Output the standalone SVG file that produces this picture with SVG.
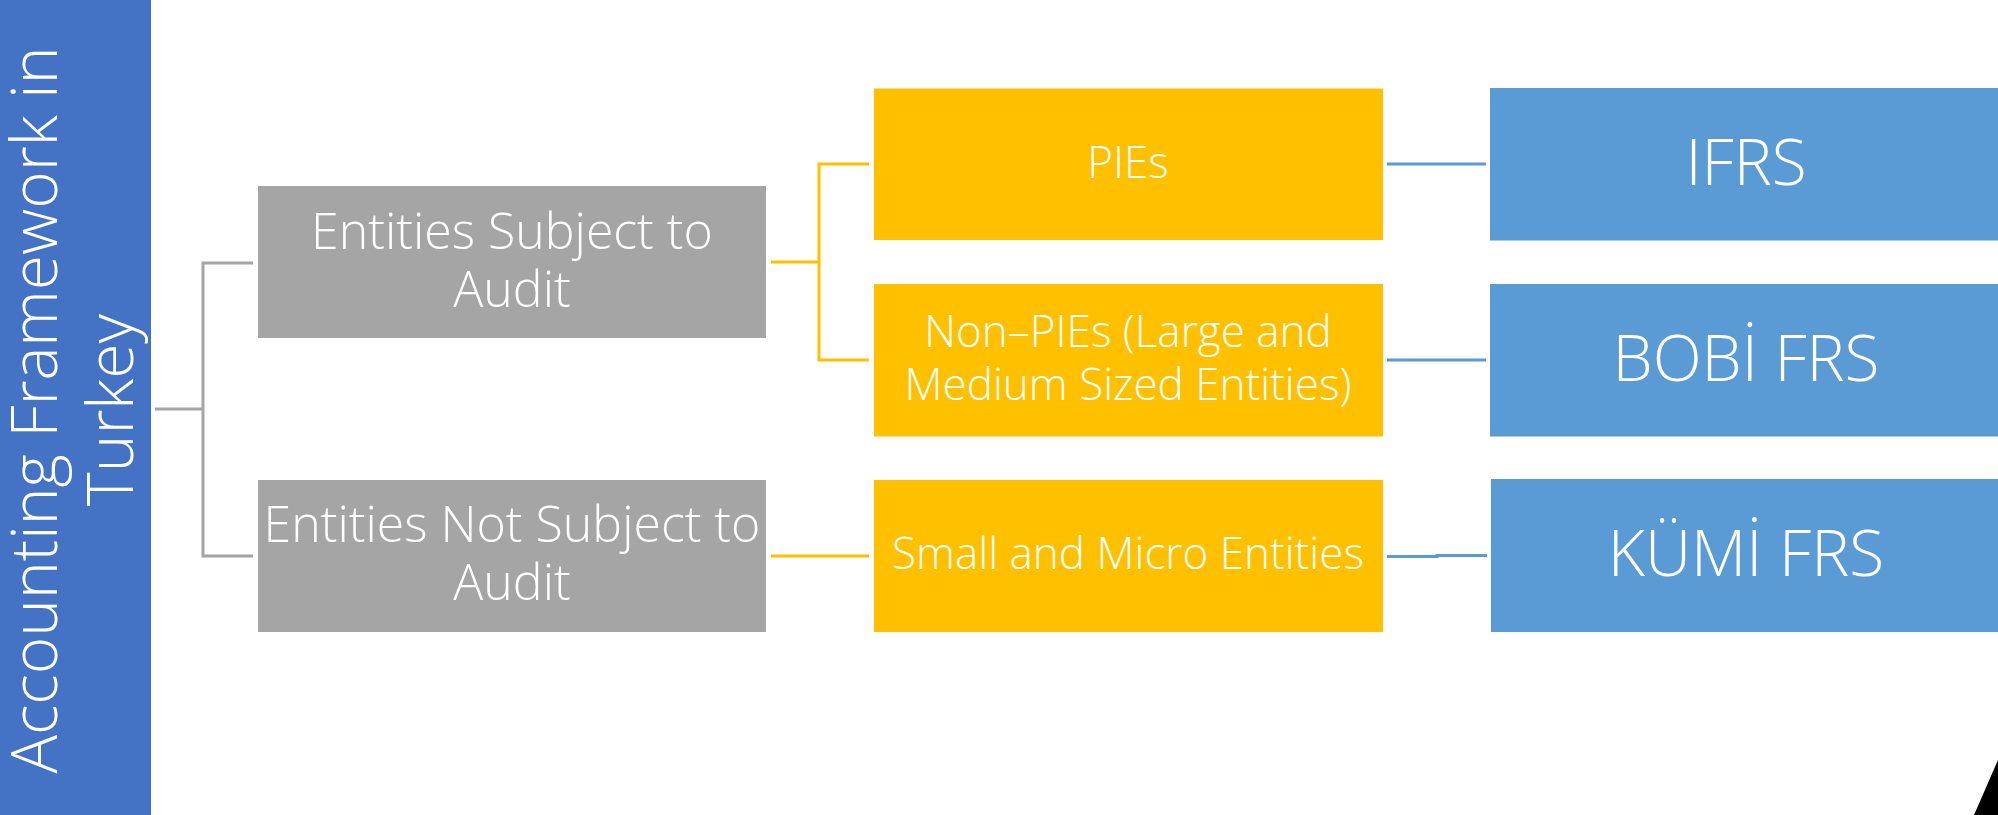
<svg xmlns="http://www.w3.org/2000/svg" width="1998" height="815" viewBox="0 0 1998 815">
<style>
text{font-family:"Open Sans","Noto Sans","Liberation Sans",sans-serif;fill:#FFFFFF;text-anchor:middle;font-weight:300}
.t1{font-size:64px}
.t2{font-size:50px}
.t3{font-size:44px}
.t4{font-size:64px}
.gray{fill:#A5A5A5}
.yel{fill:#FFC000}
.blu{fill:#5B9BD5}
.cg{fill:none;stroke:#A5A5A5;stroke-width:3}
.cy{fill:none;stroke:#FFC000;stroke-width:3}
.cb{fill:none;stroke:#5B9BD5;stroke-width:3}
</style>
<rect width="1998" height="815" fill="#FFFFFF"/>
<g id="root">
<rect x="0" y="0" width="151" height="815" fill="#4472C4"/>
<text class="t1" transform="translate(0,410) rotate(-90)" x="0" y="57">Accounting Framework in</text>
<text class="t1" transform="translate(0,410) rotate(-90)" x="0" y="133">Turkey</text>
</g>
<g id="connectors">
<path class="cg" d="M155,409 H203 M253,263 H203 V556 H253"/>
<path class="cy" d="M771,262 H819 M869,164 H819 V360 H869"/>
<path class="cy" d="M771,556 H869"/>
<path class="cb" d="M1387,164 H1486"/>
<path class="cb" d="M1387,360 H1486"/>
<path class="cb" d="M1387,556.5 H1437 V555.5 H1487"/>
</g>
<g id="audit">
<rect class="gray" x="258" y="186" width="508" height="152"/>
<text class="t2" x="512" y="249">Entities Subject to</text>
<text class="t2" x="512" y="307">Audit</text>
</g>
<g id="nonaudit">
<rect class="gray" x="258" y="480" width="508" height="152"/>
<text class="t2" x="512" y="542">Entities Not Subject to</text>
<text class="t2" x="512" y="600">Audit</text>
</g>
<g id="pies">
<rect class="yel" x="874" y="88.5" width="509" height="151.5"/>
<text class="t3" x="1128" y="177.5">PIEs</text>
</g>
<g id="nonpies">
<rect class="yel" x="874" y="284" width="509" height="152.5"/>
<text class="t3" x="1128" y="347">Non–PIEs (Large and</text>
<text class="t3" x="1128" y="399.5">Medium Sized Entities)</text>
</g>
<g id="small">
<rect class="yel" x="874" y="480" width="509" height="152"/>
<text class="t3" x="1128" y="569">Small and Micro Entities</text>
</g>
<g id="ifrs">
<rect class="blu" x="1490" y="88" width="512" height="152.5"/>
<text class="t4" x="1746" y="185">IFRS</text>
</g>
<g id="bobi">
<rect class="blu" x="1490" y="284" width="512" height="152.5"/>
<text class="t4" x="1746" y="380.5">BOBİ FRS</text>
</g>
<g id="kumi">
<rect class="blu" x="1491" y="479" width="511" height="153"/>
<text class="t4" x="1746" y="575.5">KÜMİ FRS</text>
</g>
<polygon points="1974,815 1998,760 1998,815" fill="#000000"/>
</svg>
